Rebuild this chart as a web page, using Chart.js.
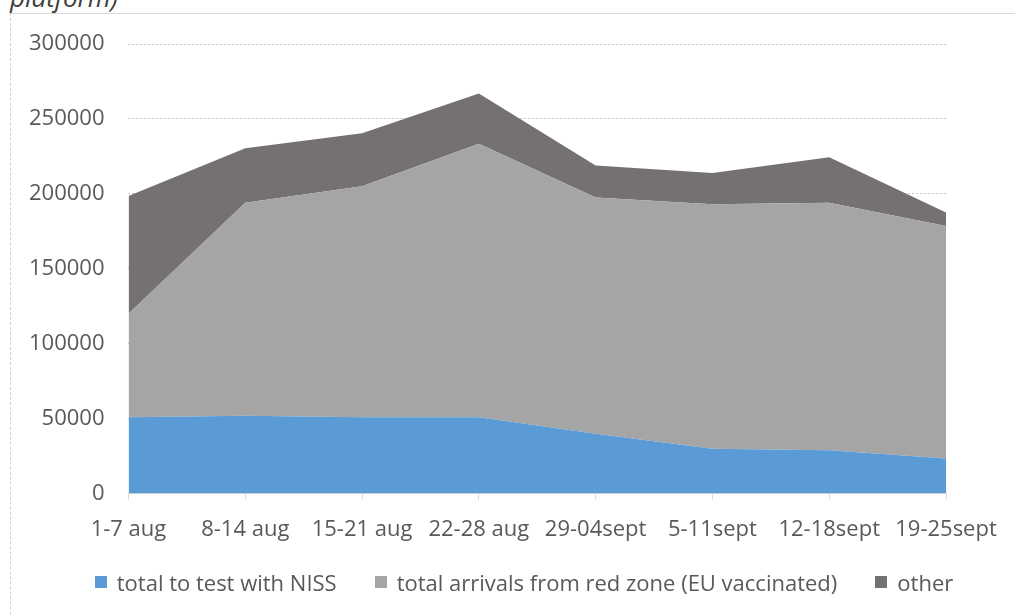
<!DOCTYPE html>
<html>
<head>
<meta charset="utf-8">
<script src="https://cdn.jsdelivr.net/npm/chart.js@4"></script>
<style>
  html, body { margin: 0; padding: 0; background: #fff; overflow: hidden; }
  #wrap { position: relative; width: 1015px; height: 616px; overflow: hidden; }
  #title { position: absolute; left: 10px; top: -21px; font-family: "Open Sans", sans-serif; font-style: italic; font-size: 26px; color: #404040; white-space: nowrap; }
  #frame { position: absolute; left: 10px; top: 13px; width: 1100px; height: 700px; border-left: 1px dashed #d0d0d0; border-top: 1px solid #d9d9d9; }
  #c { position: absolute; left: 0; top: 0; }
  #legend { position: absolute; left: 10px; width: 1028px; top: 567px; display: flex; justify-content: center; align-items: center; font-family: "Open Sans", sans-serif; font-size: 22px; color: #595959; white-space: nowrap; }
  #legend .item { display: flex; align-items: center; margin: 0 19px; }
  #legend .box { width: 12px; height: 12px; margin-right: 10px; }
</style>
</head>
<body>
<div id="wrap">
  <div id="title">platform)</div>
  <div id="frame"></div>
  <canvas id="c" width="1015" height="616"></canvas>
  <div id="legend"></div>
</div>
<script>
const categories = ["1-7 aug", "8-14 aug", "15-21 aug", "22-28 aug", "29-04sept", "5-11sept", "12-18sept", "19-25sept"];
const nissValues = [51000, 52000, 51000, 51000, 40000, 30000, 29000, 23500];
const redZoneValues = [69000, 142000, 154000, 182500, 157500, 163000, 165000, 155000];
const otherValues = [78500, 36500, 35500, 33500, 21500, 21000, 30500, 9000];
const yTicks = [0, 50000, 100000, 150000, 200000, 250000, 300000];
const seriesNames = ["total to test with NISS", "total arrivals from red zone (EU vaccinated)", "other"];
const seriesColors = ["#5B9BD5", "#A5A5A5", "#757171"];

const FONT = "'Open Sans', sans-serif";
const chart = new Chart(document.getElementById('c'), {
  type: 'line',
  data: {
    labels: categories,
    datasets: [
      { label: seriesNames[0], data: nissValues, backgroundColor: seriesColors[0], borderColor: seriesColors[0], borderWidth: 0, fill: 'origin', pointRadius: 0, tension: 0 },
      { label: seriesNames[1], data: redZoneValues, backgroundColor: seriesColors[1], borderColor: seriesColors[1], borderWidth: 0, fill: '-1', pointRadius: 0, tension: 0 },
      { label: seriesNames[2], data: otherValues, backgroundColor: seriesColors[2], borderColor: seriesColors[2], borderWidth: 0, fill: '-1', pointRadius: 0, tension: 0 }
    ]
  },
  options: {
    responsive: false,
    animation: false,
    layout: { padding: { left: 5, right: 69, top: 44, bottom: 56 } },
    plugins: {
      tooltip: { enabled: false },
      legend: { display: false }
    },
    scales: {
      x: {
        offset: false,
        grid: { display: true, drawOnChartArea: false, drawTicks: true, tickLength: 6, color: '#d9d9d9' },
        border: { display: true, color: '#d9d9d9' },
        ticks: { font: { family: FONT, size: 22 }, color: '#595959', padding: 17, maxRotation: 0, autoSkip: false }
      },
      y: {
        stacked: true,
        min: 0, max: 300000,
        afterBuildTicks: (axis) => { axis.ticks = yTicks.map(v => ({ value: v })); },
        grid: { color: '#c8c8c8', drawTicks: false },
        border: { display: false, dash: [2, 2] },
        ticks: { font: { family: FONT, size: 22 }, color: '#595959', padding: 24, callback: (v) => String(v) }
      }
    }
  }
});

// HTML legend built from the chart's datasets
const legendEl = document.getElementById('legend');
chart.data.datasets.forEach(ds => {
  const item = document.createElement('div');
  item.className = 'item';
  const box = document.createElement('span');
  box.className = 'box';
  box.style.background = ds.backgroundColor;
  const txt = document.createElement('span');
  txt.textContent = ds.label;
  item.appendChild(box);
  item.appendChild(txt);
  legendEl.appendChild(item);
});
</script>
</body>
</html>
